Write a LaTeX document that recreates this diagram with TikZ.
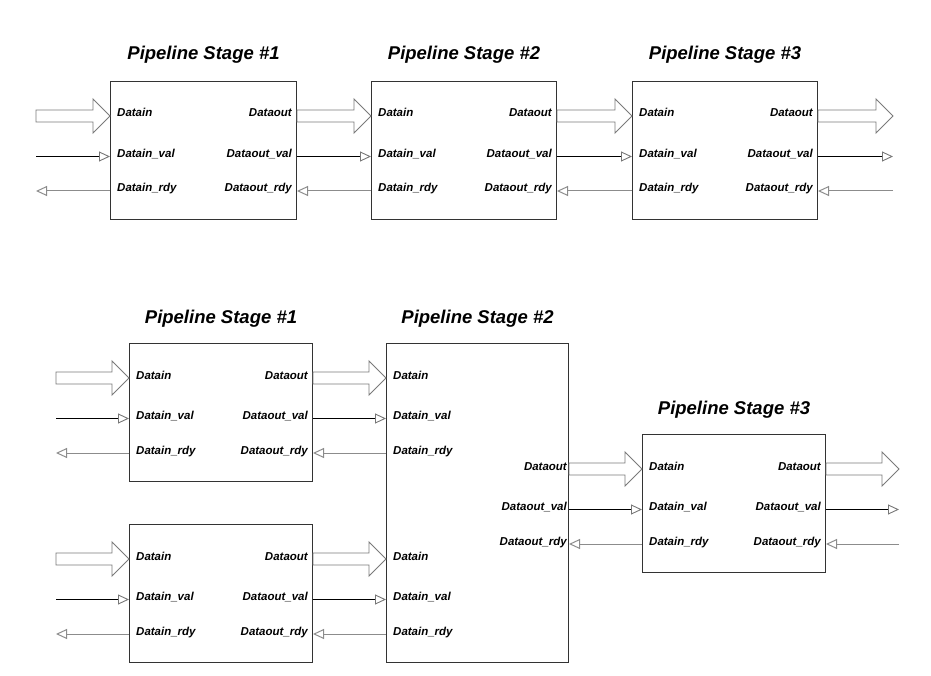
\documentclass[tikz,border=0pt]{standalone}
\usepackage{fontspec}
\setmainfont{Liberation Sans}
\usetikzlibrary{arrows.meta,calc}

\definecolor{boxline}{HTML}{333333}
\definecolor{fatgray}{HTML}{7A7A7A}
\definecolor{rdygray}{HTML}{8C8C8C}
\definecolor{tipgray}{HTML}{777777}

\tikzset{
  stage/.style={draw=boxline, line width=1pt, minimum height=138pt, anchor=north west, inner sep=0pt},
  stagetitle/.style={font=\fontsize{18.5}{20}\selectfont\bfseries\itshape, anchor=base, inner sep=0pt},
  lin/.style={font=\fontsize{11.5}{13}\selectfont\bfseries\itshape, anchor=base west, inner sep=0pt, xshift=7pt, yshift=-1pt},
  lout/.style={font=\fontsize{11.5}{13}\selectfont\bfseries\itshape, anchor=base east, inner sep=0pt, xshift=-#1, yshift=-1pt},
  lout/.default=5pt,
  fatarr/.style={draw=fatgray, line width=0.9pt, fill=white, line join=miter},
  valline/.style={draw=black, line width=0.9pt, -{Triangle[open, length=11pt, width=10pt, color=tipgray]}},
  rdyline/.style={draw=rdygray, line width=1pt, -{Triangle[open, length=11pt, width=10pt]}}
}

% port coordinates on both sides of a stage box
\newcommand{\stageports}[1]{%
  \foreach \p/\dy in {d/35,v/75.5,r/110}{
    \coordinate (#1-\p-in) at ($(#1.north west)+(0,\dy)$);
    \coordinate (#1-\p-out) at ($(#1.north east)+(0,\dy)$);
  }}
\newcommand{\inlabels}[1]{%
  \node[lin] (#1-ld) at (#1-d-in) {Datain};
  \node[lin] (#1-lv) at (#1-v-in) {Datain\_val};
  \node[lin] (#1-lr) at (#1-r-in) {Datain\_rdy};}
\newcommand{\outlabels}[2][5pt]{%
  \node[lout=#1] (#2-od) at (#2-d-out) {Dataout};
  \node[lout=#1] (#2-ov) at (#2-v-out) {Dataout\_val};
  \node[lout=#1] (#2-or) at (#2-r-out) {Dataout\_rdy};}
% wide data arrow, #2 is the tip
\newcommand{\fatarrow}[2]{%
  \draw[fatarr] ($(#1)+(0,-6)$) -- ($(#2)+(-17,-6)$) -- ($(#2)+(-17,-17)$) -- (#2)
    -- ($(#2)+(-17,17)$) -- ($(#2)+(-17,6)$) -- ($(#1)+(0,6)$) -- cycle;}
% data, valid and ready between two stages
\newcommand{\linkstages}[2]{%
  \fatarrow{#1-d-out}{#2-d-in}
  \draw[valline] (#1-v-out) -- (#2-v-in);
  \draw[rdyline] (#2-r-in) -- (#1-r-out);}

\begin{document}
\begin{tikzpicture}[x=1pt, y=-1pt]
  \useasboundingbox (0,0) rectangle (931,676);

  % three stages in a row
  \node[stage, minimum width=186pt] (t1) at (110,81) {};
  \node[stage, minimum width=185pt] (t2) at (371,81) {};
  \node[stage, minimum width=185pt] (t3) at (632,81) {};
  \foreach \s/\n in {t1/1,t2/2,t3/3}{
    \node[stagetitle] at ($(\s.north)+(0,-21)$) {Pipeline Stage \#\n};
  }
  \stageports{t1} \stageports{t2} \stageports{t3}
  \inlabels{t1} \inlabels{t2} \inlabels{t3}
  \outlabels{t1} \outlabels{t2} \outlabels{t3}

  \coordinate (srcT) at (36,0);
  \coordinate (snkT) at (893,0);
  \fatarrow{srcT |- t1-d-in}{t1-d-in}
  \draw[valline] (srcT |- t1-v-in) -- (t1-v-in);
  \draw[rdyline] (t1-r-in) -- (srcT |- t1-r-in);
  \linkstages{t1}{t2}
  \linkstages{t2}{t3}
  \fatarrow{t3-d-out}{snkT |- t3-d-out}
  \draw[valline] (t3-v-out) -- (snkT |- t3-v-out);
  \draw[rdyline] (snkT |- t3-r-out) -- (t3-r-out);

  % two stages merging into one
  \node[stage, minimum width=183pt] (a1) at (129,343) {};
  \node[stage, minimum width=183pt] (b1) at (129,524) {};
  \node[stage, minimum width=182pt, minimum height=319pt] (m2) at (386,343) {};
  \node[stage, minimum width=183pt] (m3) at (642,434) {};
  \node[stagetitle] at ($(a1.north)+(0,-20)$) {Pipeline Stage \#1};
  \node[stagetitle] at ($(m2.north)+(0,-20)$) {Pipeline Stage \#2};
  \node[stagetitle] at ($(m3.north)+(0,-20)$) {Pipeline Stage \#3};
  \stageports{a1} \stageports{b1} \stageports{m3}
  \foreach \p in {d,v,r}{
    \coordinate (m2a-\p-in) at (a1-\p-out -| m2.west);
    \coordinate (m2b-\p-in) at (b1-\p-out -| m2.west);
    \coordinate (m2-\p-out) at (m3-\p-in -| m2.east);
  }
  \inlabels{a1} \inlabels{b1} \inlabels{m2a} \inlabels{m2b} \inlabels{m3}
  \outlabels{a1} \outlabels{b1} \outlabels[2pt]{m2} \outlabels{m3}

  \coordinate (srcB) at (56,0);
  \coordinate (snkB) at (899,0);
  \foreach \s in {a1,b1}{
    \fatarrow{srcB |- \s-d-in}{\s-d-in}
    \draw[valline] (srcB |- \s-v-in) -- (\s-v-in);
    \draw[rdyline] (\s-r-in) -- (srcB |- \s-r-in);
  }
  \linkstages{a1}{m2a}
  \linkstages{b1}{m2b}
  \linkstages{m2}{m3}
  \fatarrow{m3-d-out}{snkB |- m3-d-out}
  \draw[valline] (m3-v-out) -- (snkB |- m3-v-out);
  \draw[rdyline] (snkB |- m3-r-out) -- (m3-r-out);
\end{tikzpicture}
\end{document}
